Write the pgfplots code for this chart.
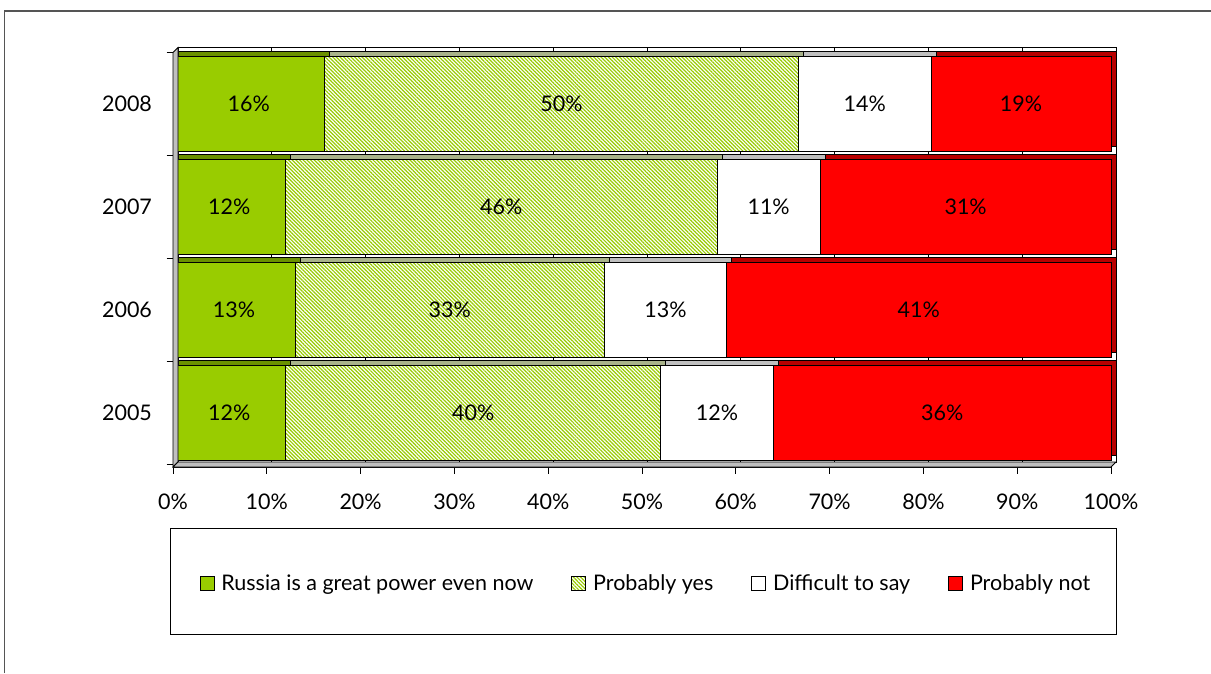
\documentclass[border=0pt]{standalone}
\usepackage{fontspec}
\setmainfont{Lato}
\usepackage{pgfplots}
\pgfplotsset{compat=1.18}
\usepackage{pgfplotstable}
\usetikzlibrary{patterns.meta}

\definecolor{greatgreen}{HTML}{99CC00}
\definecolor{greatgreentop}{HTML}{6B9100}
\definecolor{yestop}{HTML}{A9B38A}
\definecolor{sidegray}{HTML}{BFBFBF}
\definecolor{notred}{HTML}{FF0000}
\definecolor{notredtop}{HTML}{B80000}
\definecolor{framegray}{HTML}{555555}

% Shares of answers by survey year (pos 3 = 2008 at the top)
\pgfplotstableread{
pos a  b  c  d
3   16 50 14 19
2   12 46 11 31
1   13 33 13 41
0   12 40 12 36
}\survey

% row total, used to scale each bar to 100%
\newcommand{\tot}{(\thisrow{a}+\thisrow{b}+\thisrow{c}+\thisrow{d})}
\newcommand{\chartfont}{\fontsize{21.5}{25}\selectfont}

\pgfplotsset{
  barframe/.style={
    scale only axis, width=938pt, height=414.5pt,
    xmin=0, xmax=100, ymin=-0.524, ymax=3.5,
    anchor=south west, clip=false,
  },
  seg/.style={draw=black, line width=0.8pt},
  valuelabel/.style={draw=none, mark=none,
    nodes near coords={\pgfplotspointmeta\%}, point meta=explicit symbolic,
    nodes near coords align={center},
    every node near coord/.append style={font=\chartfont, text=black}},
}

\begin{document}
\begin{tikzpicture}[font=\chartfont]
\path[use as bounding box] (0pt,0pt) rectangle (1211pt,673pt);
\draw[framegray, line width=1.6pt] (4.5pt,0pt) -- (4.5pt,662pt) -- (1211pt,662pt);

% legend frame
\draw[black, line width=1pt] (170pt,39pt) rectangle (1116pt,145pt);

% back wall with gridlines and the shaded depth of each bar
\begin{axis}[barframe, at={(178pt,211pt)},
  xbar stacked, bar width=95pt,
  axis background/.style={fill=white},
  axis line style={black, line width=0.8pt},
  xtick={0,10,...,100}, xticklabels={}, ytick=\empty,
  major tick length=0pt,
  xmajorgrids, grid style={black, line width=0.8pt}]
  \addplot[seg, fill=greatgreentop] table[x expr={\thisrow{a}*100/\tot}, y=pos] \survey;
  \addplot[seg, fill=yestop]        table[x expr={\thisrow{b}*100/\tot}, y=pos] \survey;
  \addplot[seg, fill=sidegray]      table[x expr={\thisrow{c}*100/\tot}, y=pos] \survey;
  \addplot[seg, fill=notredtop]     table[x expr={\thisrow{d}*100/\tot}, y=pos] \survey;
\end{axis}

% front face of the bars
\begin{axis}[barframe, at={(173pt,206pt)},
  xbar stacked, bar width=95pt,
  axis x line*=bottom, axis y line*=left,
  axis line style={black, line width=0.8pt},
  tick align=outside, major tick length=6.5pt,
  tick style={black, line width=0.8pt},
  xtick={0,10,...,100},
  xticklabels={0\%,10\%,20\%,30\%,40\%,50\%,60\%,70\%,80\%,90\%,100\%},
  ytick={-0.5,0.5,1.5,2.5,3.5}, yticklabels={},
  extra y ticks={0,1,2,3},
  extra y tick labels={2005,2006,2007,2008},
  extra y tick style={tick style={draw=none}},
  tick label style={font=\chartfont, text=black},
  xticklabel style={yshift=-17pt},
  yticklabel style={xshift=-11pt},
  legend columns=4,
  legend style={draw=none, fill=none, font=\chartfont,
    at={(0.5048,-0.2799)}, anchor=center,
    /tikz/every odd column/.append style={column sep=4pt},
    /tikz/every even column/.append style={column sep=35pt},
    nodes={inner xsep=3pt}},
  legend image code/.code={\draw[#1, line width=0.8pt] (0pt,-7pt) rectangle (14pt,7pt);},
  ]
  % floor and left wall
  \filldraw[fill=sidegray, draw=black, line width=0.8pt]
    (rel axis cs:0,0) -- (rel axis cs:1,0) -- ([shift={(5pt,5pt)}]rel axis cs:1,0)
    -- ([shift={(5pt,5pt)}]rel axis cs:0,0) -- cycle;
  \filldraw[fill=sidegray, draw=black, line width=0.8pt]
    (rel axis cs:0,0) -- ([shift={(5pt,5pt)}]rel axis cs:0,0)
    -- ([shift={(5pt,5pt)}]rel axis cs:0,1) -- (rel axis cs:0,1) -- cycle;
  \addplot[seg, fill=greatgreen] table[x expr={\thisrow{a}*100/\tot}, y=pos] \survey;
  \addplot[seg, preaction={fill=white},
    pattern={Lines[angle=-45, distance=2.6pt, line width=1.2pt]}, pattern color=greatgreen]
    table[x expr={\thisrow{b}*100/\tot}, y=pos] \survey;
  \addplot[seg, fill=white] table[x expr={\thisrow{c}*100/\tot}, y=pos] \survey;
  \addplot[seg, fill=notred] table[x expr={\thisrow{d}*100/\tot}, y=pos] \survey;
  \legend{Russia is a great power even now, Probably yes, Difficult to say, Probably not}
\end{axis}

% value labels centred in each segment
\begin{axis}[barframe, at={(173pt,206pt)}, hide axis]
  \addplot[valuelabel] table[x expr={\thisrow{a}/2*100/\tot}, y=pos, meta=a] \survey;
  \addplot[valuelabel] table[x expr={(\thisrow{a}+\thisrow{b}/2)*100/\tot}, y=pos, meta=b] \survey;
  \addplot[valuelabel] table[x expr={(\thisrow{a}+\thisrow{b}+\thisrow{c}/2)*100/\tot}, y=pos, meta=c] \survey;
  \addplot[valuelabel] table[x expr={(\thisrow{a}+\thisrow{b}+\thisrow{c}+\thisrow{d}/2)*100/\tot}, y=pos, meta=d] \survey;
\end{axis}
\end{tikzpicture}
\end{document}
